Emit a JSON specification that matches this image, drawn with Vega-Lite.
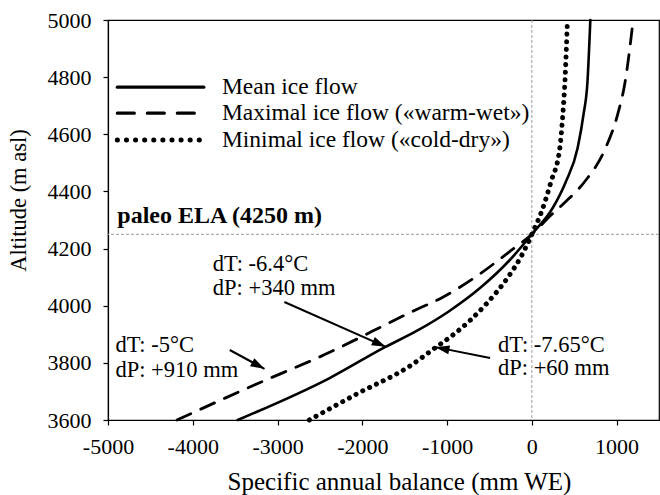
{
  "$schema": "https://vega.github.io/schema/vega-lite/v6.json",
  "width": 551,
  "height": 400,
  "autosize": "none",
  "padding": {"left": 108, "top": 20, "right": 1, "bottom": 75},
  "background": "white",
  "config": {
    "view": {"stroke": "black", "strokeWidth": 1.2},
    "font": "Liberation Serif",
    "axis": {
      "labelFont": "Liberation Serif",
      "titleFont": "Liberation Serif",
      "labelColor": "black",
      "titleColor": "black",
      "domainColor": "black",
      "tickColor": "black",
      "domainWidth": 1.2,
      "tickWidth": 1.2,
      "tickSize": 5,
      "grid": false,
      "titleFontWeight": "normal",
      "labelFlush": false,
      "labelOverlap": false
    }
  },
  "datasets": {
    "curves": [
      {"series": "Mean", "balance": -3470, "altitude": 3600},
      {"series": "Mean", "balance": -2391, "altitude": 3746},
      {"series": "Mean", "balance": -1727, "altitude": 3856},
      {"series": "Mean", "balance": -1375, "altitude": 3909},
      {"series": "Mean", "balance": -985, "altitude": 3979},
      {"series": "Mean", "balance": -594, "altitude": 4066},
      {"series": "Mean", "balance": -260, "altitude": 4160},
      {"series": "Mean", "balance": 0, "altitude": 4250},
      {"series": "Mean", "balance": 246, "altitude": 4342},
      {"series": "Mean", "balance": 400, "altitude": 4433},
      {"series": "Mean", "balance": 540, "altitude": 4552},
      {"series": "Mean", "balance": 610, "altitude": 4670},
      {"series": "Mean", "balance": 656, "altitude": 4783},
      {"series": "Mean", "balance": 690, "altitude": 5000},
      {"series": "Maximal", "balance": -4185, "altitude": 3600},
      {"series": "Maximal", "balance": -3247, "altitude": 3726},
      {"series": "Maximal", "balance": -2509, "altitude": 3820},
      {"series": "Maximal", "balance": -1372, "altitude": 3985},
      {"series": "Maximal", "balance": -1067, "altitude": 4027},
      {"series": "Maximal", "balance": -633, "altitude": 4107},
      {"series": "Maximal", "balance": -281, "altitude": 4185},
      {"series": "Maximal", "balance": 0, "altitude": 4250},
      {"series": "Maximal", "balance": 230, "altitude": 4318},
      {"series": "Maximal", "balance": 395, "altitude": 4363},
      {"series": "Maximal", "balance": 620, "altitude": 4433},
      {"series": "Maximal", "balance": 870, "altitude": 4552},
      {"series": "Maximal", "balance": 1010, "altitude": 4667},
      {"series": "Maximal", "balance": 1100, "altitude": 4783},
      {"series": "Maximal", "balance": 1195, "altitude": 5000},
      {"series": "Minimal", "balance": -2625, "altitude": 3600},
      {"series": "Minimal", "balance": -2040, "altitude": 3695},
      {"series": "Minimal", "balance": -1454, "altitude": 3786},
      {"series": "Minimal", "balance": -1125, "altitude": 3856},
      {"series": "Minimal", "balance": -903, "altitude": 3904},
      {"series": "Minimal", "balance": -551, "altitude": 4002},
      {"series": "Minimal", "balance": -281, "altitude": 4100},
      {"series": "Minimal", "balance": -129, "altitude": 4171},
      {"series": "Minimal", "balance": 0, "altitude": 4250},
      {"series": "Minimal", "balance": 130, "altitude": 4342},
      {"series": "Minimal", "balance": 225, "altitude": 4433},
      {"series": "Minimal", "balance": 330, "altitude": 4552},
      {"series": "Minimal", "balance": 365, "altitude": 4667},
      {"series": "Minimal", "balance": 390, "altitude": 4783},
      {"series": "Minimal", "balance": 420, "altitude": 5000}
    ],
    "legend": [
      {"series": "Mean", "label": "Mean ice flow", "altitude": 4765},
      {"series": "Maximal", "label": "Maximal ice flow («warm-wet»)", "altitude": 4674},
      {"series": "Minimal", "label": "Minimal ice flow («cold-dry»)", "altitude": 4580}
    ],
    "notes": [
      {"text": "dT: -6.4°C", "balance": -3763, "altitude": 4121},
      {"text": "dP: +340 mm", "balance": -3763, "altitude": 4037},
      {"text": "dT: -5°C", "balance": -4912, "altitude": 3838},
      {"text": "dP: +910 mm", "balance": -4912, "altitude": 3750},
      {"text": "dT: -7.65°C", "balance": -399, "altitude": 3838},
      {"text": "dP: +60 mm", "balance": -399, "altitude": 3757}
    ],
    "arrows": [
      {"from_b": -2919, "from_a": 4013, "to_b": -1723, "to_a": 3856, "dir": 23.8},
      {"from_b": -3564, "from_a": 3845, "to_b": -3154, "to_a": 3779, "dir": 28.5},
      {"from_b": -492, "from_a": 3817, "to_b": -1137, "to_a": 3855, "dir": 191.3}
    ],
    "refs": [
      {"balance": 0, "altitude": 4250}
    ]
  },
  "encoding": {
    "x": {
      "type": "quantitative",
      "scale": {"domain": [-5000, 1500], "nice": false, "zero": false},
      "axis": {
        "values": [-5000, -4000, -3000, -2000, -1000, 0, 1000],
        "labelExpr": "datum.value < 0 ? '-' + format(-datum.value, 'd') : format(datum.value, 'd')",
        "labelFontSize": 22,
        "labelBaseline": "alphabetic",
        "labelPadding": 28,
        "title": "Specific annual balance (mm WE)",
        "titleFontSize": 25,
        "titleX": 291,
        "titleY": 69,
        "titleAlign": "center",
        "titleBaseline": "alphabetic",
        "titleAnchor": null
      }
    },
    "y": {
      "type": "quantitative",
      "scale": {"domain": [3600, 5000], "nice": false, "zero": false},
      "axis": {
        "values": [3600, 3800, 4000, 4200, 4400, 4600, 4800, 5000],
        "labelExpr": "format(datum.value, 'd')",
        "labelFontSize": 22,
        "labelBaseline": "middle",
        "labelPadding": 12,
        "title": "Altitude (m asl)",
        "titleFontSize": 22.5,
        "titleAngle": -90,
        "titleX": -90,
        "titleY": 180,
        "titleAlign": "center",
        "titleBaseline": "middle",
        "titleAnchor": null
      }
    }
  },
  "layer": [
    {
      "data": {"name": "refs"},
      "mark": {"type": "rule", "color": "#9a9a9a", "strokeWidth": 1, "strokeDash": [3, 2]},
      "encoding": {"x": {"field": "balance", "type": "quantitative"}}
    },
    {
      "data": {"name": "refs"},
      "mark": {"type": "rule", "color": "#9a9a9a", "strokeWidth": 1, "strokeDash": [3, 2]},
      "encoding": {"y": {"field": "altitude", "type": "quantitative"}}
    },
    {
      "data": {"name": "curves"},
      "transform": [{"filter": "datum.series === 'Mean'"}],
      "mark": {"type": "line", "color": "black", "strokeWidth": 2.6, "strokeCap": "round", "interpolate": "monotone"},
      "encoding": {
        "x": {"field": "balance", "type": "quantitative"},
        "y": {"field": "altitude", "type": "quantitative"},
        "order": {"field": "altitude", "type": "quantitative"}
      }
    },
    {
      "data": {"name": "curves"},
      "transform": [{"filter": "datum.series === 'Maximal'"}],
      "mark": {"type": "line", "color": "black", "strokeWidth": 2.8, "strokeCap": "round", "strokeDash": [15, 11], "interpolate": "monotone"},
      "encoding": {
        "x": {"field": "balance", "type": "quantitative"},
        "y": {"field": "altitude", "type": "quantitative"},
        "order": {"field": "altitude", "type": "quantitative"}
      }
    },
    {
      "data": {"name": "curves"},
      "transform": [{"filter": "datum.series === 'Minimal'"}],
      "mark": {"type": "line", "color": "black", "strokeWidth": 5, "strokeCap": "round", "strokeDash": [0.1, 7.5], "interpolate": "monotone"},
      "encoding": {
        "x": {"field": "balance", "type": "quantitative"},
        "y": {"field": "altitude", "type": "quantitative"},
        "order": {"field": "altitude", "type": "quantitative"}
      }
    },
    {
      "data": {"name": "legend"},
      "transform": [{"filter": "datum.series === 'Mean'"}],
      "mark": {"type": "rule", "color": "black", "strokeWidth": 3.2, "strokeCap": "round"},
      "encoding": {
        "x": {"datum": -4890, "type": "quantitative"},
        "x2": {"datum": -3870},
        "y": {"field": "altitude", "type": "quantitative"}
      }
    },
    {
      "data": {"name": "legend"},
      "transform": [{"filter": "datum.series === 'Maximal'"}],
      "mark": {"type": "rule", "color": "black", "strokeWidth": 3.2, "strokeCap": "round", "strokeDash": [17, 13]},
      "encoding": {
        "x": {"datum": -4890, "type": "quantitative"},
        "x2": {"datum": -3870},
        "y": {"field": "altitude", "type": "quantitative"}
      }
    },
    {
      "data": {"name": "legend"},
      "transform": [{"filter": "datum.series === 'Minimal'"}],
      "mark": {"type": "rule", "color": "black", "strokeWidth": 5, "strokeCap": "round", "strokeDash": [0.1, 9]},
      "encoding": {
        "x": {"datum": -4890, "type": "quantitative"},
        "x2": {"datum": -3870},
        "y": {"field": "altitude", "type": "quantitative"}
      }
    },
    {
      "data": {"name": "legend"},
      "mark": {"type": "text", "align": "left", "baseline": "middle", "font": "Liberation Serif", "fontSize": 23.5, "color": "black"},
      "encoding": {
        "x": {"datum": -3656, "type": "quantitative"},
        "y": {"field": "altitude", "type": "quantitative"},
        "text": {"field": "label"}
      }
    },
    {
      "data": {"name": "refs"},
      "mark": {"type": "text", "align": "left", "baseline": "alphabetic", "font": "Liberation Serif", "fontSize": 24, "fontWeight": "bold", "color": "black"},
      "encoding": {
        "x": {"datum": -4890, "type": "quantitative"},
        "y": {"datum": 4289, "type": "quantitative"},
        "text": {"value": "paleo ELA (4250 m)"}
      }
    },
    {
      "data": {"name": "notes"},
      "mark": {"type": "text", "align": "left", "baseline": "alphabetic", "font": "Liberation Serif", "fontSize": 22.5, "color": "black"},
      "encoding": {
        "x": {"field": "balance", "type": "quantitative"},
        "y": {"field": "altitude", "type": "quantitative"},
        "text": {"field": "text"}
      }
    },
    {
      "data": {"name": "arrows"},
      "mark": {"type": "rule", "color": "black", "strokeWidth": 2},
      "encoding": {
        "x": {"field": "from_b", "type": "quantitative"},
        "y": {"field": "from_a", "type": "quantitative"},
        "x2": {"field": "to_b"},
        "y2": {"field": "to_a"}
      }
    },
    {
      "data": {"name": "arrows"},
      "mark": {"type": "point", "shape": "M0,0L-2,-0.65L-2,0.65Z", "filled": true, "color": "black", "size": 196, "opacity": 1},
      "encoding": {
        "x": {"field": "to_b", "type": "quantitative"},
        "y": {"field": "to_a", "type": "quantitative"},
        "angle": {"field": "dir", "type": "quantitative", "scale": null}
      }
    }
  ]
}
